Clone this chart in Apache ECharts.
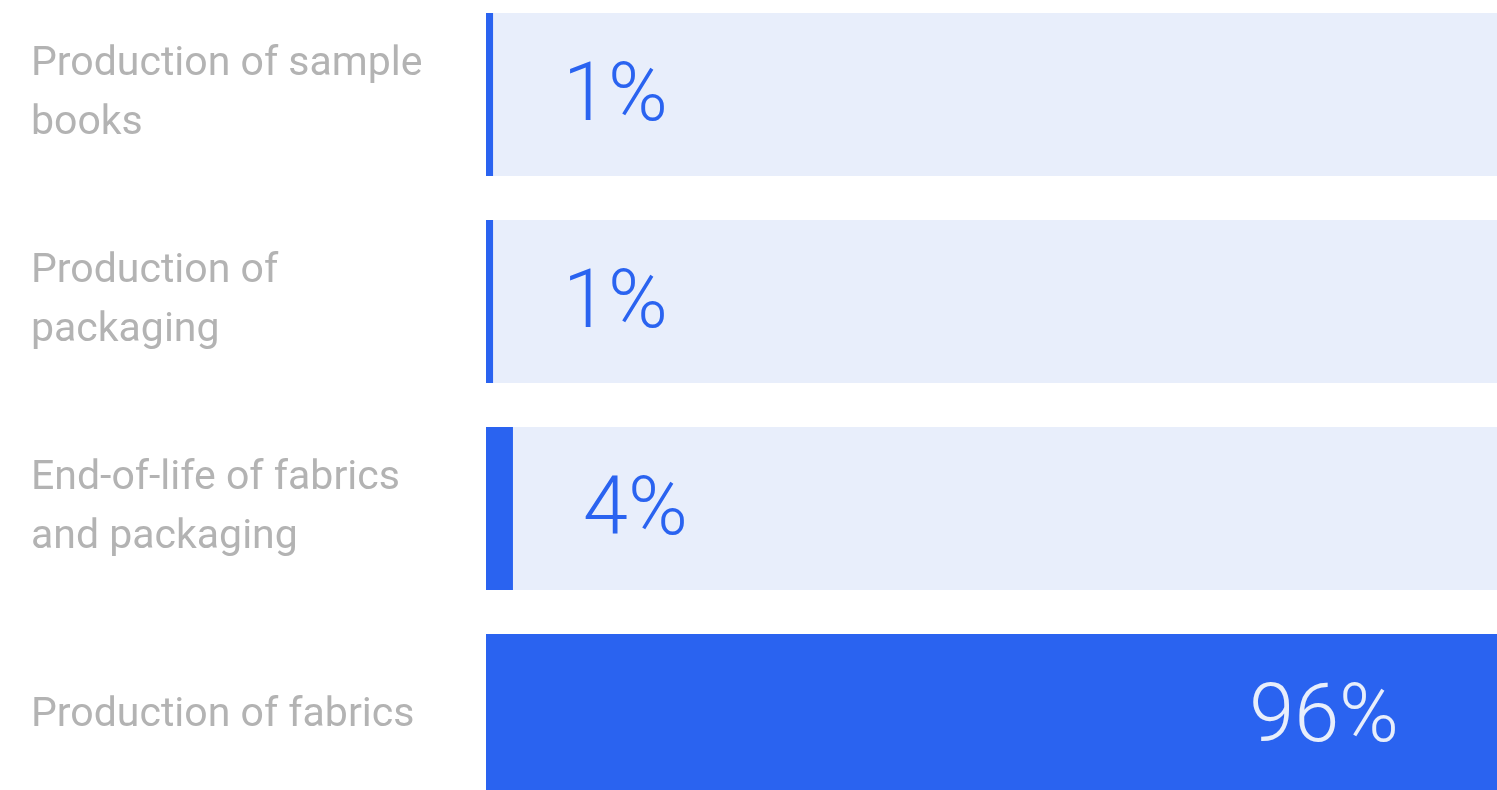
<!DOCTYPE html>
<html>
<head>
<meta charset="utf-8">
<script src="https://cdn.jsdelivr.net/npm/echarts@6/dist/echarts.min.js"></script>
<style>
  html, body { margin: 0; padding: 0; background: #ffffff; }
  #chart { width: 1497px; height: 790px; }
</style>
</head>
<body>
<div id="chart"></div>
<script>
// categories top to bottom
var categories = [
  'Production of sample\nbooks',
  'Production of\npackaging',
  'End-of-life of fabrics\nand packaging',
  'Production of fabrics'
];
// bar lengths (percent, the biggest bar fills the track)
var barValues = [0.67, 0.67, 2.56, 96];
// label text printed on each bar
var shareLabels = ['1%', '1%', '4%', '96%'];

var blue = '#2a63f0';
var track = '#e8eefb';

var chart = echarts.init(document.getElementById('chart'));

var seriesData = barValues.map(function (v, i) {
  var big = v > 50;
  return {
    value: v,
    label: big ? {
      position: 'insideRight',
      distance: 98,
      color: '#e8eefb'
    } : {
      position: 'right',
      distance: 70,
      color: blue
    }
  };
});

var option = {
  animation: false,
  grid: {
    left: 486, right: 0, top: -9, height: 828,
    containLabel: false,
    outerBoundsMode: 'none'
  },
  xAxis: {
    type: 'value',
    min: 0,
    max: 96,
    show: false
  },
  yAxis: {
    type: 'category',
    inverse: true,
    data: categories,
    axisLine: { show: false },
    axisTick: { show: false },
    splitLine: { show: false },
    axisLabel: {
      align: 'left',
      margin: 455,
      color: '#b3b3b3',
      fontFamily: 'Roboto',
      fontSize: 41,
      lineHeight: 59
    }
  },
  series: [{
    type: 'bar',
    data: seriesData,
    barWidth: 163,
    showBackground: true,
    backgroundStyle: { color: track },
    itemStyle: { color: blue },
    label: {
      show: true,
      fontFamily: 'Roboto',
      fontWeight: 300,
      fontSize: 81,
      offset: [0, 5],
      formatter: function (p) { return shareLabels[p.dataIndex]; }
    }
  }]
};

chart.setOption(option);
</script>
</body>
</html>
